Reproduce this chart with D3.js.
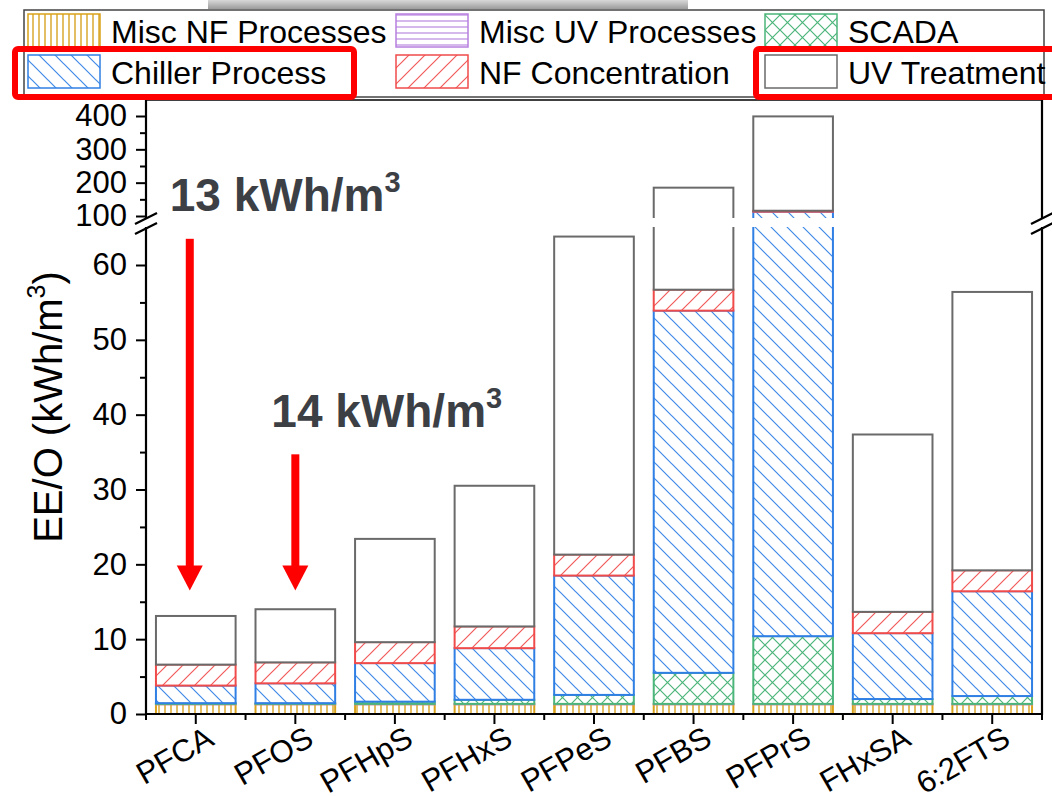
<!DOCTYPE html>
<html>
<head>
<meta charset="utf-8">
<script src="https://cdn.jsdelivr.net/npm/d3@7/dist/d3.min.js"></script>
<style>
	body { margin: 0; background: #fff; }
	svg text { font-family: "Liberation Sans", Arial, sans-serif; }
</style>
</head>
<body>
<svg id="chart"></svg>
<script>
// data (kWh/m3 per series, stacked bottom to top)
let categories = ["PFCA", "PFOS", "PFHpS", "PFHxS", "PFPeS", "PFBS", "PFPrS", "FHxSA", "6:2FTS"];
let seriesNames = ["Misc NF Processes", "Misc UV Processes", "SCADA", "Chiller Process", "NF Concentration", "UV Treatment"];
let miscNF = [1.3, 1.3, 1.3, 1.3, 1.3, 1.3, 1.3, 1.3, 1.3];
let miscUV = [0.05, 0.05, 0.05, 0.05, 0.05, 0.05, 0.05, 0.05, 0.05];
let scada = [0.1, 0.1, 0.3, 0.55, 1.2, 4.15, 9.05, 0.65, 1.05];
let chiller = [2.35, 2.65, 5.15, 6.9, 15.95, 48.4, 102.6, 8.8, 14.0];
let nfConc = [2.8, 2.8, 2.8, 2.9, 2.8, 2.8, 2.8, 2.85, 2.8];
let uvTreat = [6.5, 7.1, 13.8, 18.8, 42.5, 128.3, 283, 23.7, 37.2];

let lowTicks = [0, 10, 20, 30, 40, 50, 60];
let lowMinor = [5, 15, 25, 35, 45, 55];
let highTicks = [100, 200, 300, 400];
let highMinor = [150, 250, 350];

// annotations: total label + arrow from/to value on the lower scale
let notes = [
	{ cat: "PFCA", label: "13", from: 63.5, to: 16.5 },
	{ cat: "PFOS", label: "14", from: 34.7, to: 16.5 }
];

function makeChart() {
	let w = 1052;
	let h = 796;

	let plotL = 146;
	let plotR = 1042;
	let plotT = 100;
	let plotB = 714;

	// broken y axis: two segments
	let lowTop = 227;
	let highBot = 218;

	let rows = categories.map((c, i) => ({
		cat: c,
		"Misc NF Processes": miscNF[i],
		"Misc UV Processes": miscUV[i],
		"SCADA": scada[i],
		"Chiller Process": chiller[i],
		"NF Concentration": nfConc[i],
		"UV Treatment": uvTreat[i]
	}));
	let stacked = d3.stack().keys(seriesNames)(rows);

	let styles = {
		"Misc NF Processes": { fill: "url(#pNF)", stroke: "#d9a21b" },
		"Misc UV Processes": { fill: "url(#pUV)", stroke: "#b77fe0" },
		"SCADA": { fill: "url(#pSC)", stroke: "#4cb57a" },
		"Chiller Process": { fill: "url(#pCH)", stroke: "#2f7fe4" },
		"NF Concentration": { fill: "url(#pNC)", stroke: "#f04b4b" },
		"UV Treatment": { fill: "#fff", stroke: "#6a6a6a" }
	};

	let xScale = d3.scaleBand()
		.domain(categories)
		.range([plotL, plotR])
		.paddingInner(0.2)
		.paddingOuter(0.1);

	let yLow = d3.scaleLinear().domain([0, 60]).range([plotB, 265]);
	let yHigh = d3.scaleLinear().domain([100, 400]).range([216, 116]);

	let chart = d3.select('#chart')
		.attr('width', w)
		.attr('height', h);

	let defs = chart.append('defs');

	function pattern(id, size, d, color, sw) {
		let p = defs.append('pattern')
			.attr('id', id)
			.attr('patternUnits', 'userSpaceOnUse')
			.attr('width', size)
			.attr('height', size);
		p.append('rect').attr('width', size).attr('height', size).attr('fill', '#fff');
		p.append('path').attr('d', d).attr('stroke', color).attr('stroke-width', sw).attr('fill', 'none');
	}
	pattern('pNF', 6, 'M3,0V6', '#dcae3c', 1.6);
	pattern('pUV', 6, 'M0,3H6', '#c49be6', 1.4);
	pattern('pSC', 15, 'M0,0L15,15M15,0L0,15', '#4cb57a', 1.2);
	pattern('pCH', 16, 'M0,0L16,16M-4,12L4,20M12,-4L20,4', '#3f8ae8', 1.2);
	pattern('pNC', 16, 'M0,16L16,0M-4,4L4,-4M12,20L20,12', '#f25a5a', 1.2);

	let grad = defs.append('linearGradient').attr('id', 'shade').attr('x1', 0).attr('x2', 0).attr('y1', 0).attr('y2', 1);
	grad.append('stop').attr('offset', '0%').attr('stop-color', '#d8d8d8');
	grad.append('stop').attr('offset', '100%').attr('stop-color', '#9c9c9c');

	defs.append('clipPath').attr('id', 'clipLow')
		.append('rect').attr('x', 0).attr('y', lowTop).attr('width', w).attr('height', plotB - lowTop + 2);
	defs.append('clipPath').attr('id', 'clipHigh')
		.append('rect').attr('x', 0).attr('y', plotT).attr('width', w).attr('height', highBot - plotT);

	// gray shadow strip at the top
	chart.append('rect')
		.attr('x', 208).attr('y', 0)
		.attr('width', 480).attr('height', 9)
		.attr('fill', 'url(#shade)');

	//BARS (drawn once per axis segment, clipped)
	[[yLow, 'clipLow'], [yHigh, 'clipHigh']].forEach(([ys, clip]) => {
		let seg = chart.append('g').attr('clip-path', `url(#${clip})`);
		seg.selectAll('g')
			.data(stacked)
			.enter()
			.append('g')
			.attr('fill', d => styles[d.key].fill)
			.attr('stroke', d => styles[d.key].stroke)
			.attr('stroke-width', 2)
			.selectAll('rect')
			.data(d => d)
			.enter()
			.append('rect')
			.attr('x', d => xScale(d.data.cat))
			.attr('width', xScale.bandwidth())
			.attr('y', d => Math.max(-2000, ys(d[1])))
			.attr('height', d => Math.max(0, Math.min(3000, ys(d[0])) - Math.max(-2000, ys(d[1]))));
	});

	//AXES
	let axisColor = '#000';

	chart.append('g')
		.attr('transform', `translate(${plotL},0)`)
		.call(d3.axisLeft(yLow).tickValues(lowTicks).tickSize(10).tickPadding(9));
	chart.append('g')
		.attr('transform', `translate(${plotL},0)`)
		.call(d3.axisLeft(yLow).tickValues(lowMinor).tickSize(6).tickFormat(''));
	chart.append('g')
		.attr('transform', `translate(${plotL},0)`)
		.call(d3.axisLeft(yHigh).tickValues(highTicks).tickSize(10).tickPadding(9));
	chart.append('g')
		.attr('transform', `translate(${plotL},0)`)
		.call(d3.axisLeft(yHigh).tickValues(highMinor).tickSize(6).tickFormat(''));

	let xAxis = chart.append('g')
		.attr('transform', `translate(0,${plotB})`)
		.call(d3.axisBottom(xScale).tickSize(10).tickSizeOuter(0));

	// minor x ticks at category boundaries
	let bounds = categories.map(c => xScale(c) - xScale.step() * xScale.paddingInner() / 2)
		.concat([plotR]);
	chart.append('g')
		.selectAll('line')
		.data(bounds)
		.enter()
		.append('line')
		.attr('x1', d => d).attr('x2', d => d)
		.attr('y1', plotB).attr('y2', plotB + 6)
		.attr('stroke', axisColor).attr('stroke-width', 2);

	chart.selectAll('.domain').remove();
	chart.selectAll('.tick line').attr('stroke', axisColor).attr('stroke-width', 2);
	chart.selectAll('.tick text')
		.attr('fill', '#000')
		.style('font-size', '31px')
		.style('font-family', '"Liberation Sans", Arial, sans-serif');

	xAxis.selectAll('.tick text')
		.attr('x', 0).attr('y', 0).attr('dy', 0)
		.attr('transform', 'translate(20,30) rotate(-30)')
		.style('font-size', '31px')
		.style('text-anchor', 'end');

	// axis lines with breaks
	let frame = chart.append('g').attr('stroke', axisColor).attr('stroke-width', 2.2).attr('fill', 'none');
	frame.append('line').attr('x1', plotL).attr('x2', plotR).attr('y1', plotB).attr('y2', plotB);
	frame.append('line').attr('x1', plotL).attr('x2', plotR).attr('y1', plotT).attr('y2', plotT).attr('stroke-width', 1.6);
	[plotL, plotR].forEach(xx => {
		frame.append('line').attr('x1', xx).attr('x2', xx).attr('y1', plotT).attr('y2', highBot);
		frame.append('line').attr('x1', xx).attr('x2', xx).attr('y1', lowTop).attr('y2', plotB + 1);
		frame.append('rect').attr('x', xx - 4).attr('y', highBot + 1).attr('width', 8).attr('height', lowTop - highBot - 2)
			.attr('fill', '#fff').attr('stroke', 'none');
		frame.append('line').attr('x1', xx - 11).attr('y1', 224).attr('x2', xx + 11).attr('y2', 213);
		frame.append('line').attr('x1', xx - 11).attr('y1', 234).attr('x2', xx + 11).attr('y2', 223);
	});

	// LABELS
	//y-axis
	let yl = chart.append('text')
		.attr('transform', 'translate(62,407) rotate(-90)')
		.style('text-anchor', 'middle')
		.style('font-size', '40px')
		.attr('fill', '#000');
	yl.append('tspan').text('EE/O (kWh/m');
	yl.append('tspan').text('3').style('font-size', '25px').attr('dy', -17);
	yl.append('tspan').text(')').attr('dy', 17);

	//annotations
	notes.forEach((n, i) => {
		let cx = xScale(n.cat) + xScale.bandwidth() / 2 + (i === 0 ? -6 : 0);
		let tipY = yLow(n.to);
		chart.append('rect')
			.attr('x', cx - 4).attr('y', yLow(n.from))
			.attr('width', 8).attr('height', tipY - 24 - yLow(n.from))
			.attr('fill', '#ff0000');
		chart.append('path')
			.attr('d', `M${cx - 13},${tipY - 25}L${cx + 13},${tipY - 25}L${cx},${tipY}Z`)
			.attr('fill', '#ff0000');
		let t = chart.append('text')
			.attr('x', cx - 20 - (i === 0 ? 0 : 4))
			.attr('y', yLow(n.from) - (i === 0 ? 28 : 27))
			.attr('fill', '#3c4045')
			.style('font-size', '46px')
			.style('font-weight', 'bold');
		t.append('tspan').text(n.label + ' kWh/m');
		t.append('tspan').text('3').style('font-size', '29px').attr('dy', -19);
	});

	//LEGEND
	let legend = chart.append('g');
	legend.append('rect')
		.attr('x', 24).attr('y', 10)
		.attr('width', 1020).attr('height', 87)
		.attr('fill', '#fff')
		.attr('stroke', '#444').attr('stroke-width', 1.5);

	let colX = [28, 396, 765];
	let rowY = [14, 55];
	seriesNames.forEach((s, i) => {
		let lx = colX[i % 3];
		let ly = rowY[Math.floor(i / 3)];
		legend.append('rect')
			.attr('x', lx).attr('y', ly)
			.attr('width', 72).attr('height', 33)
			.attr('fill', styles[s].fill)
			.attr('stroke', styles[s].stroke)
			.attr('stroke-width', 1.5);
		legend.append('text')
			.attr('x', lx + 83).attr('y', ly + 29)
			.style('font-size', '32px')
			.attr('fill', '#000')
			.text(s);
	});

	// red highlight boxes
	legend.append('rect')
		.attr('x', 15).attr('y', 49).attr('width', 339).attr('height', 48)
		.attr('rx', 3).attr('fill', 'none').attr('stroke', '#ff0000').attr('stroke-width', 6);
	legend.append('rect')
		.attr('x', 756).attr('y', 49).attr('width', 310).attr('height', 48)
		.attr('rx', 3).attr('fill', 'none').attr('stroke', '#ff0000').attr('stroke-width', 6);
}

window.onload = function () {
	makeChart();
}
</script>
</body>
</html>
